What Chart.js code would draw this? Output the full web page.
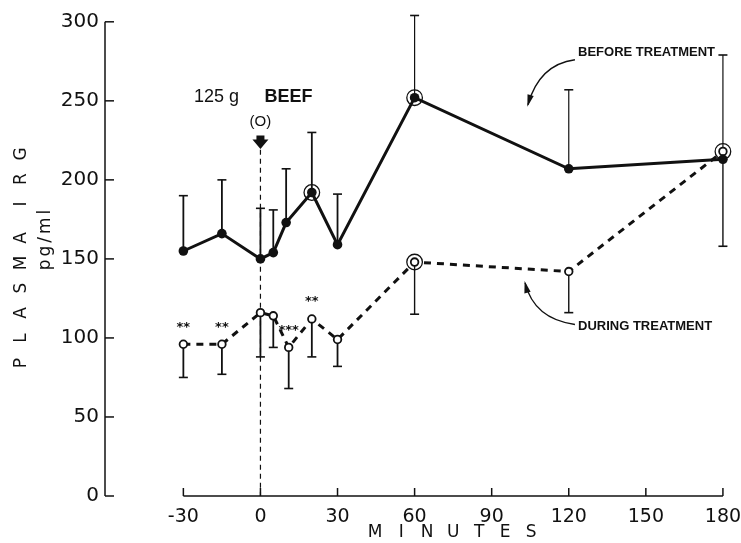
<!DOCTYPE html>
<html><head><meta charset="utf-8">
<script src="https://cdn.jsdelivr.net/npm/chart.js@4"></script>
<style>html,body{margin:0;padding:0;background:#fff}canvas{display:block}</style>
</head><body>
<canvas id="c" width="741" height="543"></canvas>
<script>
// ---- data ----
const beforeMinutes = [-30, -15, 0, 5, 10, 20, 30, 60, 120, 180];
const beforeMean    = [155, 166, 150, 154, 173, 192, 159, 252, 207, 213];
const beforeSDup    = [35, 34, 32, 27, 34, 38, 32, 52, 50, 66];
const duringMinutes = [-30, -15, 0, 5, 11, 20, 30, 60, 120, 180];
const duringMean    = [96, 96, 116, 114, 94, 112, 99, 148, 142, 218];
const duringSDdown  = [21, 19, 28, 20, 26, 24, 17, 33, 26, 60];
const circledBefore = [20, 60];
const circledDuring = [60, 180];
const starMinutes   = [-30, -15, 11, 20];
const starLabels    = ['**', '**', '***', '**'];
const xTickValues   = [-30, 0, 30, 60, 90, 120, 150, 180];
const yTickValues   = [0, 50, 100, 150, 200, 250, 300];

const INK = '#111';
const pts = (xs, ys) => xs.map((v, i) => ({x: v, y: ys[i]}));

function curvedArrow(ctx, x0, y0, cx, cy, x1, y1) {
  ctx.beginPath(); ctx.moveTo(x0, y0); ctx.quadraticCurveTo(cx, cy, x1, y1); ctx.stroke();
  const a = Math.atan2(y1 - cy, x1 - cx);
  const L = 10, W = 3.2;
  ctx.beginPath();
  ctx.moveTo(x1 + Math.cos(a) * 2, y1 + Math.sin(a) * 2);
  ctx.lineTo(x1 - Math.cos(a) * L + Math.sin(a) * W, y1 - Math.sin(a) * L - Math.cos(a) * W);
  ctx.lineTo(x1 - Math.cos(a) * L - Math.sin(a) * W, y1 - Math.sin(a) * L + Math.cos(a) * W);
  ctx.closePath(); ctx.fill();
}

const deco = {
  id: 'deco',
  beforeDatasetsDraw(chart) {
    const {ctx, scales: {x, y}} = chart;
    ctx.save();
    ctx.strokeStyle = INK; ctx.fillStyle = INK;
    // dashed line at time 0
    const x0 = x.getPixelForValue(0);
    ctx.lineWidth = 1.2; ctx.setLineDash([5, 4]);
    ctx.beginPath(); ctx.moveTo(x0, y.getPixelForValue(219)); ctx.lineTo(x0, y.getPixelForValue(0)); ctx.stroke();
    ctx.setLineDash([]);
    // error bars
    const bar = (xv, from, to, lw) => {
      const px = x.getPixelForValue(xv), a = y.getPixelForValue(from), b = y.getPixelForValue(to);
      ctx.lineWidth = lw;
      ctx.beginPath(); ctx.moveTo(px, a); ctx.lineTo(px, b); ctx.stroke();
      ctx.lineWidth = 1.6;
      ctx.beginPath(); ctx.moveTo(px - 4.5, b); ctx.lineTo(px + 4.5, b); ctx.stroke();
    };
    beforeMinutes.forEach((m, i) => bar(m, beforeMean[i], beforeMean[i] + beforeSDup[i], m >= 60 ? 1.2 : 1.8));
    duringMinutes.forEach((m, i) => bar(m, duringMean[i], duringMean[i] - duringSDdown[i], m >= 60 ? 1.4 : 1.8));
    ctx.restore();
  },
  afterDatasetsDraw(chart) {
    const {ctx, scales: {x, y}} = chart;
    ctx.save();
    ctx.strokeStyle = INK; ctx.fillStyle = INK;
    // rings round selected points
    ctx.lineWidth = 1.3;
    const ring = (xv, yv) => { ctx.beginPath(); ctx.arc(x.getPixelForValue(xv), y.getPixelForValue(yv), 7.8, 0, Math.PI * 2); ctx.stroke(); };
    circledBefore.forEach(m => ring(m, beforeMean[beforeMinutes.indexOf(m)]));
    circledDuring.forEach(m => ring(m, duringMean[duringMinutes.indexOf(m)]));
    // significance stars
    ctx.font = 'bold 13px "DejaVu Sans"'; ctx.textAlign = 'center'; ctx.textBaseline = 'middle';
    starMinutes.forEach((m, i) => {
      const yv = duringMean[duringMinutes.indexOf(m)];
      ctx.fillText(starLabels[i], x.getPixelForValue(m), y.getPixelForValue(yv) - 17);
    });
    // meal annotation
    const x0 = x.getPixelForValue(0);
    ctx.font = '18px "Liberation Sans"';
    ctx.fillText('125 g', x0 - 44, y.getPixelForValue(252.5));
    ctx.font = 'bold 18px "Liberation Sans"';
    ctx.fillText('BEEF', x0 + 28, y.getPixelForValue(252.5));
    ctx.font = '15px "Liberation Sans"';
    ctx.fillText('(O)', x0, y.getPixelForValue(237));
    const aTop = y.getPixelForValue(228), aBot = y.getPixelForValue(219.5);
    ctx.beginPath();
    ctx.moveTo(x0 - 4, aTop); ctx.lineTo(x0 + 4, aTop); ctx.lineTo(x0 + 4, aTop + 4);
    ctx.lineTo(x0 + 8, aTop + 4); ctx.lineTo(x0, aBot); ctx.lineTo(x0 - 8, aTop + 4);
    ctx.lineTo(x0 - 4, aTop + 4); ctx.closePath(); ctx.fill();
    // series labels with curved arrows
    ctx.font = 'bold 13px "Liberation Sans"'; ctx.textAlign = 'left';
    ctx.fillText('BEFORE TREATMENT', x.getPixelForValue(123.6), y.getPixelForValue(280.4));
    ctx.fillText('DURING TREATMENT', x.getPixelForValue(123.6), y.getPixelForValue(107.5));
    ctx.lineWidth = 1.3;
    curvedArrow(ctx, x.getPixelForValue(122.4), y.getPixelForValue(276), x.getPixelForValue(108.5), y.getPixelForValue(273), x.getPixelForValue(104.1), y.getPixelForValue(247.5));
    curvedArrow(ctx, x.getPixelForValue(122.4), y.getPixelForValue(108.5), x.getPixelForValue(106.5), y.getPixelForValue(112), x.getPixelForValue(103), y.getPixelForValue(134.8));
    ctx.restore();
  },
  afterDraw(chart) {
    const {ctx, chartArea, scales: {x, y}} = chart;
    ctx.save();
    ctx.strokeStyle = INK; ctx.fillStyle = INK; ctx.lineWidth = 1.5;
    // y axis with inward ticks
    const ax = chartArea.left;
    ctx.beginPath(); ctx.moveTo(ax, y.getPixelForValue(0)); ctx.lineTo(ax, y.getPixelForValue(300)); ctx.stroke();
    yTickValues.forEach(v => { const py = y.getPixelForValue(v); ctx.beginPath(); ctx.moveTo(ax, py); ctx.lineTo(ax + 9, py); ctx.stroke(); });
    // x axis with upward ticks
    const ay = y.getPixelForValue(0);
    ctx.beginPath(); ctx.moveTo(x.getPixelForValue(-30), ay); ctx.lineTo(x.getPixelForValue(180), ay); ctx.stroke();
    xTickValues.forEach(v => { const px = x.getPixelForValue(v); ctx.beginPath(); ctx.moveTo(px, ay); ctx.lineTo(px, ay - 8); ctx.stroke(); });
    // axis titles
    ctx.font = '17px "DejaVu Sans"'; ctx.textAlign = 'center'; ctx.textBaseline = 'middle';
    const yt = 'PLASMA IRG'.split('');
    let pos = 0;
    ctx.save(); ctx.translate(22, 0); ctx.rotate(-Math.PI / 2);
    const startY = 363;
    yt.forEach((ch) => { if (ch === ' ') { pos += 9; return; } ctx.fillText(ch, -(startY - pos), 0); pos += 25; });
    ctx.restore();
    ctx.save(); ctx.translate(46, 238.5); ctx.rotate(-Math.PI / 2);
    ctx.letterSpacing = '3px';
    ctx.fillText('pg/ml', 0, 0);
    ctx.restore();
    const xt = 'MINUTES'.split('');
    const cx = (x.getPixelForValue(-30) + x.getPixelForValue(180)) / 2;
    xt.forEach((ch, i) => ctx.fillText(ch, cx + (i - 3) * 26, 533));
    ctx.restore();
  }
};

new Chart(document.getElementById('c'), {
  type: 'line',
  data: {
    datasets: [
      {
        label: 'Before treatment', data: pts(beforeMinutes, beforeMean),
        borderColor: INK, borderWidth: 3, pointRadius: 4.8, pointBackgroundColor: INK,
        pointBorderColor: INK, pointBorderWidth: 0, tension: 0
      },
      {
        label: 'During treatment', data: pts(duringMinutes, duringMean),
        borderColor: INK, borderWidth: 3, borderDash: [7, 6], pointRadius: 3.8,
        pointBackgroundColor: '#fff', pointBorderColor: INK, pointBorderWidth: 1.8, tension: 0
      }
    ]
  },
  options: {
    responsive: false, animation: false, devicePixelRatio: 1,
    layout: {padding: {top: 6, right: 6, left: 0, bottom: 0}},
    plugins: {legend: {display: false}, tooltip: {enabled: false}},
    scales: {
      x: {
        type: 'linear', min: -60.5, max: 184.7,
        grid: {display: false, drawTicks: false}, border: {display: false},
        afterBuildTicks(s) { s.ticks = xTickValues.map(v => ({value: v})); },
        afterFit(s) { s.height = 47; s.paddingLeft = 0; s.paddingRight = 0; },
        ticks: {color: INK, font: {family: 'DejaVu Sans', size: 19}, padding: 10, maxRotation: 0, autoSkip: false,
                callback: v => String(v)}
      },
      y: {
        min: 0, max: 310,
        grid: {display: false, drawTicks: false}, border: {display: false},
        afterBuildTicks(s) { s.ticks = yTickValues.map(v => ({value: v})); },
        afterFit(s) { s.width = 105; s.paddingTop = 0; s.paddingBottom = 0; },
        ticks: {color: INK, font: {family: 'DejaVu Sans', size: 20}, padding: 6, callback: v => String(v)}
      }
    }
  },
  plugins: [deco]
});
</script>
</body></html>
